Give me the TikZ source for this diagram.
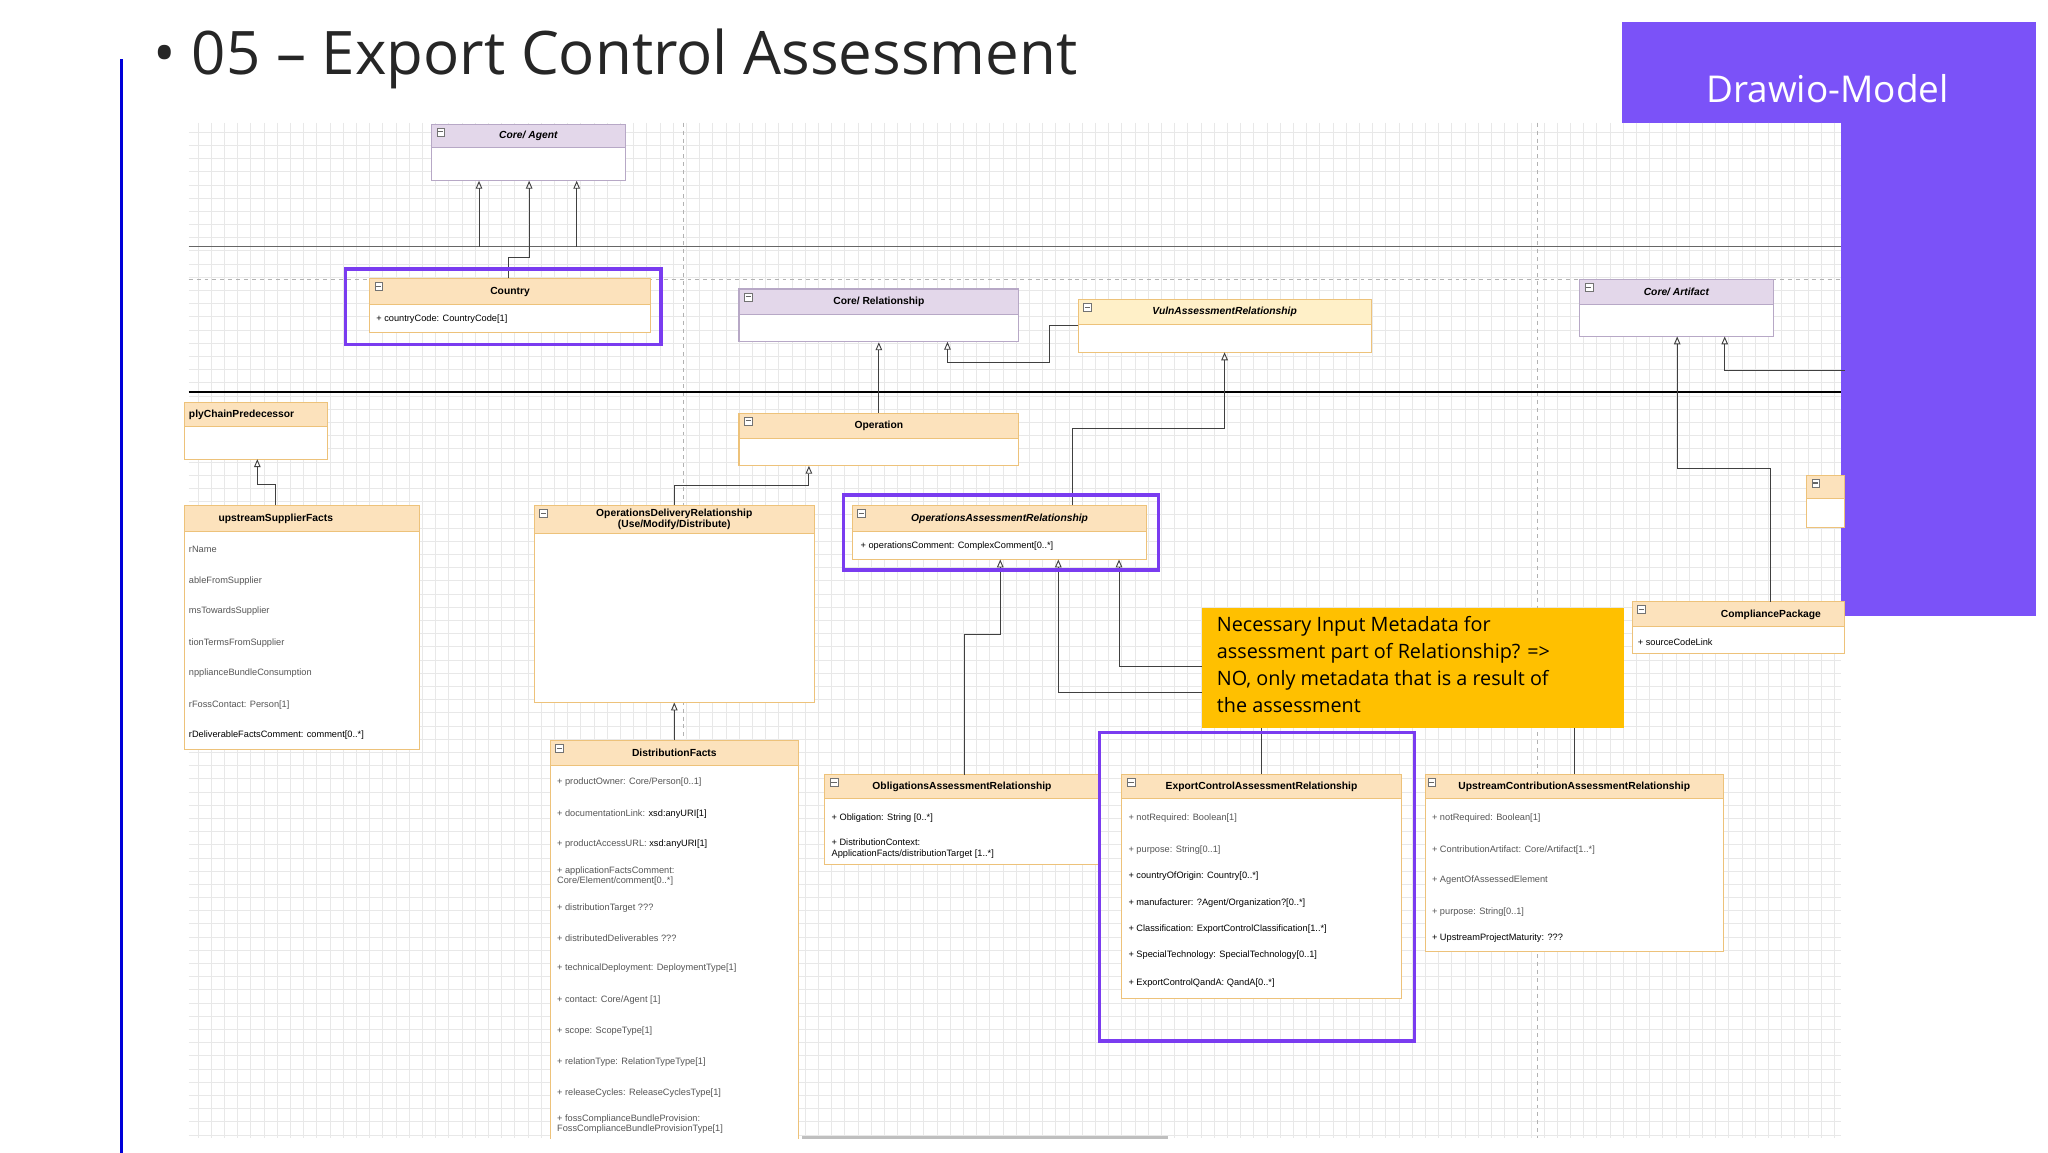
\documentclass[tikz,border=0pt]{standalone}
\usepackage{fontspec}
\setmainfont{Liberation Sans}
\newfontfamily\titlefont{Open Sans}
\usetikzlibrary{arrows.meta,fit,calc}
\definecolor{hdO}{HTML}{FCE2BC}
\definecolor{hdP}{HTML}{E3D7EA}
\definecolor{hdY}{HTML}{FFF0C8}
\definecolor{bdO}{HTML}{EDC27A}
\definecolor{bdP}{HTML}{B7A8C6}
\definecolor{hiP}{HTML}{7A3CF0}
\definecolor{panel}{HTML}{7B52F8}
\definecolor{noteY}{HTML}{FFC000}
\definecolor{attr}{HTML}{555555}
\tikzset{
  clsbody/.style={draw=bdO,fill=white,inner sep=0pt,line width=0.8pt},
  clshead/.style={draw=bdO,inner sep=0pt,line width=0.8pt},
  clstitle/.style={font=\fontsize{7.8}{8.8}\selectfont\bfseries,align=center,inner sep=0pt},
  attrt/.style={font=\fontsize{7}{8}\selectfont,text=attr,anchor=west,inner sep=0pt,align=left},
  attrb/.style={font=\fontsize{7}{8}\selectfont,text=black,anchor=west,inner sep=0pt,align=left},
  conn/.style={draw=black!75,line width=0.7pt,-{Triangle[open,width=5pt,length=6pt]}},
  hilite/.style={draw=hiP,line width=2.6pt},
  gridl/.style={draw=black!9,line width=0.35pt},
}
\newcommand\cls[9]{%
  \node[clsbody,draw=#9,fit={(#2,#3)(#4,#5)}] (#1) {};
  \node[clshead,draw=#9,fill=#7,fit={(#2,#3)(#4,#6)}] (#1h) {};
  \draw[black!55,fill=white,line width=0.4pt] (#2+4,#3+3) rectangle (#2+10,#3+9);
  \draw[black!60,line width=0.8pt] (#2+5,#3+6) -- (#2+9,#3+6);
  \node[clstitle] at ($(#2,#3)!.5!(#4,#6)$) {#8};
}
\begin{document}
\begin{tikzpicture}[x=1pt,y=-1pt]
\useasboundingbox (0,0) rectangle (1552,873);
\fill[white] (0,0) rectangle (1552,873);
% purple panel
\fill[panel] (1229,17) rectangle (1543,467);
\node[text=white,font=\titlefont\fontsize{28}{30}\selectfont] (panelt) at (1385,67) {Drawio-Model};
% diagram canvas
\fill[white] (143,93) rectangle (1395,862);
\foreach \gx in {150,160,...,1390} \draw[gridl] (\gx,93) -- (\gx,862);
\foreach \gy in {100,110,...,860} \draw[gridl] (143,\gy) -- (1395,\gy);
\draw[black!30,dashed,line width=0.5pt] (518,93) -- (518,862);
\draw[black!30,dashed,line width=0.5pt] (1165,93) -- (1165,862);
\draw[black!30,dashed,line width=0.5pt] (143,212) -- (1395,212);
\draw[black!60,line width=0.8pt] (143,187) -- (1395,187);
\draw[black,line width=2pt] (143,297) -- (1395,297);
% title
\draw[blue!85!black,line width=2.5pt] (92,45) -- (92,882);
\node[anchor=west,font=\titlefont\fontsize{45.5}{48}\selectfont,text=black!85] (title) at (113,45) {\textbullet\ 05 – Export Control Assessment};
% classes
\cls{agent}{327}{94}{474}{137}{112}{hdP}{\textit{Core/ Agent}}{bdP}
\cls{country}{280}{211}{493}{252}{231}{hdO}{Country}{bdO}
\node[attrb] at (285,242) {+ countryCode: CountryCode[1]};
\cls{corerel}{560}{219}{772}{259}{238}{hdP}{Core/ Relationship}{bdP}
\cls{vuln}{817}{227}{1039}{267}{246}{hdY}{\textit{VulnAssessmentRelationship}}{bdO}
\cls{artifact}{1197}{212}{1344}{255}{231}{hdP}{\textit{Core/ Artifact}}{bdP}
% supply chain predecessor (cut)
\node[clsbody,fit={(140,305)(248,348)}] (scp) {};
\node[clshead,fill=hdO,fit={(140,305)(248,323)}] (scph) {};
\node[clstitle,anchor=west] at (143,314) {plyChainPredecessor};
\cls{operation}{560}{313}{772}{353}{332}{hdO}{Operation}{bdO}
% upstream supplier facts
\node[clsbody,fit={(140,383)(318,568)}] (usf) {};
\node[clshead,fill=hdO,fit={(140,383)(318,403)}] (usfh) {};
\node[clstitle] at (209,393) {upstreamSupplierFacts};
\node[attrt] at (143,416) {rName};
\node[attrt] at (143,440) {ableFromSupplier};
\node[attrt] at (143,463) {msTowardsSupplier};
\node[attrt] at (143,487) {tionTermsFromSupplier};
\node[attrt] at (143,510) {npplianceBundleConsumption};
\node[attrt] at (143,534) {rFossContact: Person[1]};
\node[attrb] at (143,557) {rDeliverableFactsComment: comment[0..*]};
\cls{odr}{405}{383}{617}{532}{404}{hdO}{OperationsDeliveryRelationship\\(Use/Modify/Distribute)}{bdO}
\cls{oar}{646}{383}{869}{424}{403}{hdO}{\textit{OperationsAssessmentRelationship}}{bdO}
\node[attrb] at (652,414) {+ operationsComment: ComplexComment[0..*]};
% right cut class
\node[clsbody,fit={(1369,360)(1398,400)}] (rc) {};
\node[clshead,fill=hdO,fit={(1369,360)(1398,378)}] (rch) {};
\draw[black!55,fill=white,line width=0.4pt] (1373,363) rectangle (1379,369);
\draw[black!60,line width=0.8pt] (1374,366) -- (1378,366);
% compliance package
\node[clsbody,fit={(1237,456)(1398,495)}] (cp) {};
\node[clshead,fill=hdO,fit={(1237,456)(1398,475)}] (cph) {};
\draw[black!55,fill=white,line width=0.4pt] (1241,459) rectangle (1247,465);
\draw[black!60,line width=0.8pt] (1242,462) -- (1246,462);
\node[clstitle] at (1342,466) {CompliancePackage};
\node[attrb] at (1241,487) {+ sourceCodeLink};
% distribution facts
\cls{df}{417}{561}{605}{866}{580}{hdO}{DistributionFacts}{bdO}
\node[attrt] at (422,593) {+ productOwner: Core/Person[0..1]};
\node[attrt] at (422,617) {+ documentationLink: \textcolor{black}{xsd:anyURI[1]}};
\node[attrt] at (422,640) {+ productAccessURL: \textcolor{black}{xsd:anyURI[1]}};
\node[attrt] at (422,664) {+ applicationFactsComment:\\Core/Element/comment[0..*]};
\node[attrt] at (422,688) {+ distributionTarget ???};
\node[attrt] at (422,711) {+ distributedDeliverables ???};
\node[attrt] at (422,734) {+ technicalDeployment: DeploymentType[1]};
\node[attrt] at (422,758) {+ contact: Core/Agent [1]};
\node[attrt] at (422,781) {+ scope: ScopeType[1]};
\node[attrt] at (422,805) {+ relationType: RelationTypeType[1]};
\node[attrt] at (422,828) {+ releaseCycles: ReleaseCyclesType[1]};
\node[attrt] at (422,852) {+ fossComplianceBundleProvision:\\FossComplianceBundleProvisionType[1]};
\fill[white] (143,863) rectangle (1395,873);
\draw[black!25,line width=2pt] (608,862) -- (885,862);
\cls{obl}{625}{587}{833}{655}{605}{hdO}{ObligationsAssessmentRelationship}{bdO}
\node[attrb] at (630,620) {+ Obligation: String [0..*]};
\node[attrb] at (630,643) {+ DistributionContext:\\ApplicationFacts/distributionTarget [1..*]};
\cls{ecar}{850}{587}{1062}{757}{605}{hdO}{ExportControlAssessmentRelationship}{bdO}
\node[attrt] at (855,620) {+ notRequired: Boolean[1]};
\node[attrt] at (855,644) {+ purpose: String[0..1]};
\node[attrb] at (855,664) {+ countryOfOrigin: Country[0..*]};
\node[attrb] at (855,684) {+ manufacturer: ?Agent/Organization?[0..*]};
\node[attrb] at (855,704) {+ Classification: ExportControlClassification[1..*]};
\node[attrb] at (855,724) {+ SpecialTechnology: SpecialTechnology[0..1]};
\node[attrb] at (855,745) {+ ExportControlQandA: QandA[0..*]};
\node[clsbody,fit={(1080,587)(1306,721)}] (ucar) {};
\node[clshead,fill=hdO,fit={(1080,587)(1306,605)}] (ucarh) {};
\draw[black!55,fill=white,line width=0.4pt] (1082,590) rectangle (1088,596);
\draw[black!60,line width=0.8pt] (1083,593) -- (1087,593);
\node[clstitle] at (1193,596) {UpstreamContributionAssessmentRelationship};
\node[attrt] at (1085,620) {+ notRequired: Boolean[1]};
\node[attrt] at (1085,644) {+ ContributionArtifact: Core/Artifact[1..*]};
\node[attrt] at (1085,667) {+ AgentOfAssessedElement};
\node[attrt] at (1085,691) {+ purpose: String[0..1]};
\node[attrb] at (1085,711) {+ UpstreamProjectMaturity: ???};
% connectors
\draw[conn] (363,187) -- (363,137);
\draw[conn] (437,187) -- (437,137);
\draw[conn] (385,211) -- (385,195) -- (401,195) -- (401,137);
\draw[conn] (operation.north) -- (corerel.south);
\draw[conn] (817,247) -- (795,247) -- (795,275) -- (718,275) -- (718,259);
\draw[conn] (813,383) -- (813,325) -- (928,325) -- (928,267);
\draw[conn] (odr.north) -- (511,368) -- (613,368) -- (613,353);
\draw[conn] (209,383) -- (209,367) -- (195,367) -- (195,348);
\draw[conn] (df.north) -- (odr.south);
\draw[conn] (731,587) -- (731,481) -- (758,481) -- (758,424);
\draw[conn] (ecar.north) -- (956,525) -- (802,525) -- (802,424);
\draw[conn] (ucar.north) -- (1193,505) -- (848,505) -- (848,424);
\draw[conn] (1342,456) -- (1342,355) -- (1271,355) -- (1271,255);
\draw[conn] (1398,281) -- (1307,281) -- (1307,255);
% highlights
\draw[hilite] (262,204) rectangle (501,261);
\draw[hilite] (639,375) rectangle (878,432);
\draw[hilite] (833,555) rectangle (1072,789);
% note
\node[fill=noteY,inner sep=0pt,minimum width=320pt,minimum height=91pt] (note) at (1071,506.5) {};
\node[anchor=north west,align=left,font=\titlefont\fontsize{15}{20.5}\selectfont,inner sep=0pt] (notet) at (922,467)
{Necessary Input Metadata for\\assessment part of Relationship? =>\\NO, only metadata that is a result of\\the assessment};
\end{tikzpicture}
\end{document}
